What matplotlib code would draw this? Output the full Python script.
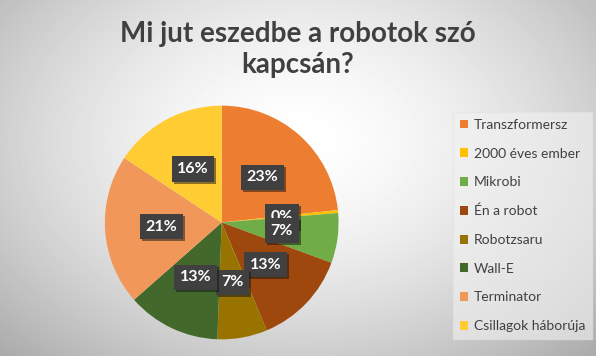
import numpy as np
import matplotlib.pyplot as plt
import matplotlib.patheffects as pe
from matplotlib.patches import Patch

plt.rcParams['font.family'] = ['Lato', 'DejaVu Sans']

# adatok
labels = ['Transzformersz', '2000 éves ember', 'Mikrobi', 'Én a robot',
          'Robotzsaru', 'Wall-E', 'Terminator', 'Csillagok háborúja']
values = [23.3, 0.4, 6.9, 13.1, 6.9, 12.9, 20.8, 15.7]
colors = ['#ED7D31', '#FFC000', '#70AD47', '#9E480E',
          '#997300', '#43682B', '#F1975A', '#FFCD33']
title = 'Mi jut eszedbe a robotok szó\nkapcsán?'

fig = plt.figure(figsize=(5.96, 3.56), dpi=100)

# radiális háttér
bg = fig.add_axes([0, 0, 1, 1], zorder=0)
yy, xx = np.mgrid[0:356, 0:596]
r = np.sqrt(((xx - 298) / 400) ** 2 + ((yy - 140) / 280) ** 2)
shade = np.clip(1.0 - 0.3 * r ** 1.6, 0, 1)
bg.imshow(shade, cmap='gray', vmin=0, vmax=1, aspect='auto')
bg.axis('off')

fig.text(0.5, 0.94, title, ha='center', va='top', fontsize=20,
         fontweight='bold', color='#404040', linespacing=1.2)

ax = fig.add_axes([0.172, 0.04, 0.4, 0.67], zorder=1)
ax.set_aspect('equal')
wedges, texts, autotexts = ax.pie(values, colors=colors, startangle=90,
                                  counterclock=False, autopct='%.0f%%',
                                  pctdistance=0.52,
                                  wedgeprops=dict(edgecolor='none'))
for t in autotexts:
    t.set_color('white')
    t.set_fontweight('bold')
    t.set_fontsize(11.5)
    t.set_bbox(dict(boxstyle='square,pad=0.35', facecolor='#404040',
                    edgecolor='none',
                    path_effects=[pe.SimplePatchShadow(offset=(1.5, -1.5), alpha=0.5),
                                  pe.Normal()]))
ax.set_xlim(-1.02, 1.02)
ax.set_ylim(-1.02, 1.02)

handles = [Patch(facecolor=c, edgecolor='none') for c in colors]
leg = fig.legend(handles, labels, loc='upper left',
                 bbox_to_anchor=(0.748, 0.705), fontsize=10,
                 frameon=True, fancybox=False, handlelength=0.6,
                 handleheight=0.6, handletextpad=0.4, labelspacing=1.2,
                 borderpad=0.5, labelcolor='#404040')
leg.get_frame().set_facecolor('#f2f2f2')
leg.get_frame().set_edgecolor('#e4e4e4')
leg.get_frame().set_alpha(0.6)

fig.savefig('out.png', dpi=100)
